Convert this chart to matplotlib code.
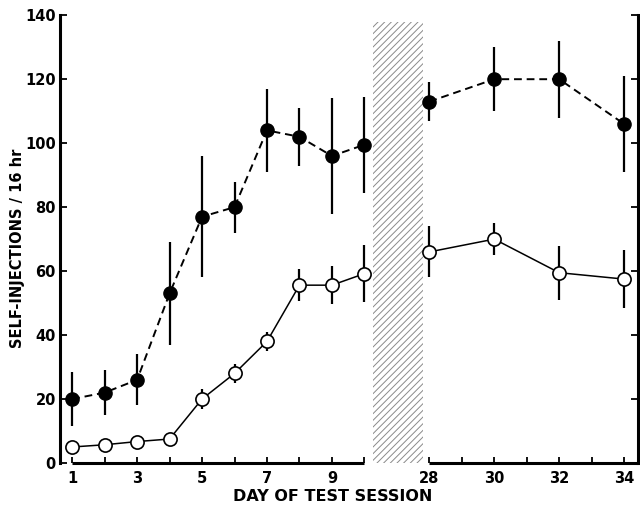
import numpy as np
import matplotlib.pyplot as plt
from matplotlib.patches import Rectangle
from matplotlib.transforms import blended_transform_factory

# days before and after the gap
days_a = [1, 2, 3, 4, 5, 6, 7, 8, 9, 10]
days_b = [28, 30, 32, 34]

# filled circles (dashed line)
filled_a = [20, 22, 26, 53, 77, 80, 104, 102, 96, 99.5]
filled_a_err = [8.5, 7, 8, 16, 19, 8, 13, 9, 18, 15]
filled_b = [113, 120, 120, 106]
filled_b_err = [6, 10, 12, 15]

# open circles (solid line)
open_a = [5, 5.7, 6.7, 7.5, 20, 28, 38, 55.6, 55.6, 59.2]
open_a_err = [0, 0, 0, 0, 3, 3, 3, 5, 6, 9]
open_b = [66, 70, 59.5, 57.5]
open_b_err = [8, 5, 8.5, 9]

tick_days = [1, 2, 3, 4, 5, 6, 7, 8, 9, 10, 28, 29, 30, 31, 32, 33, 34]
x_labels = ['1', '', '3', '', '5', '', '7', '', '9', '',
            '28', '', '30', '', '32', '', '34']
y_ticks = [0, 20, 40, 60, 80, 100, 120, 140]

GAP = 16  # day 28 sits two units after day 10


def pos(days):
    d = np.asarray(days, dtype=float)
    return np.where(d > 10, d - GAP, d)


plt.rcParams['font.family'] = 'DejaVu Sans'
plt.rcParams['hatch.linewidth'] = 0.7
fig = plt.figure(figsize=(6.4, 5.08), dpi=100)
ax = fig.add_axes([0.094, 0.0886, 0.903, 0.8814])

ax.set_xlim(0.63, 18.43)
ax.set_ylim(0, 140)

# hatched break
ax.add_patch(Rectangle((10.27, -0.8), 1.54, 138.8, facecolor='white',
                       edgecolor='#8a8a8a', hatch='/////', linewidth=0, zorder=1))

ms = 9.5
for xs, ys, es in [(days_a, filled_a, filled_a_err), (days_b, filled_b, filled_b_err)]:
    ax.errorbar(pos(xs), ys, yerr=es, fmt='none', ecolor='black', elinewidth=1.6, capsize=0, zorder=3)
    ax.plot(pos(xs), ys, color='black', linestyle=(0, (4, 2.5)), linewidth=1.4,
            marker='o', markersize=ms, markerfacecolor='black', markeredgecolor='black', zorder=4)

for xs, ys, es in [(days_a, open_a, open_a_err), (days_b, open_b, open_b_err)]:
    ax.errorbar(pos(xs), ys, yerr=es, fmt='none', ecolor='black', elinewidth=1.6, capsize=0, zorder=3)
    ax.plot(pos(xs), ys, color='black', linestyle='-', linewidth=1.1,
            marker='o', markersize=ms, markerfacecolor='white', markeredgecolor='black',
            markeredgewidth=1.2, zorder=4)

# axes frame
ax.spines['top'].set_visible(False)
ax.spines['bottom'].set_visible(False)
ax.spines['left'].set_linewidth(2.2)
ax.spines['right'].set_linewidth(2.2)

trans = blended_transform_factory(ax.transData, ax.transAxes)
ax.plot([1, 10], [0, 0], color='black', linewidth=2.2, transform=trans, clip_on=False, solid_capstyle='butt')
ax.plot([12, 18.43], [0, 0], color='black', linewidth=2.2, transform=trans, clip_on=False, solid_capstyle='butt')

ax.set_xticks(pos(tick_days))
ax.set_xticklabels(x_labels)
ax.set_yticks(y_ticks)
ax.tick_params(axis='x', direction='in', length=4, width=1.3, pad=6, labelsize=10.5)
ax.tick_params(axis='y', direction='in', length=5, width=1.3, pad=3, labelsize=10.5,
               right=True)
for lab in ax.get_xticklabels() + ax.get_yticklabels():
    lab.set_fontweight('bold')

fig.text(0.52, 0.022, 'DAY OF TEST SESSION', ha='center', va='center',
         fontsize=11.5, fontweight='bold')
fig.text(0.028, 0.512, 'SELF-INJECTIONS / 16 hr', ha='center', va='center',
         rotation=90, fontsize=10.5, fontweight='bold')

fig.savefig('out.png', dpi=100)
